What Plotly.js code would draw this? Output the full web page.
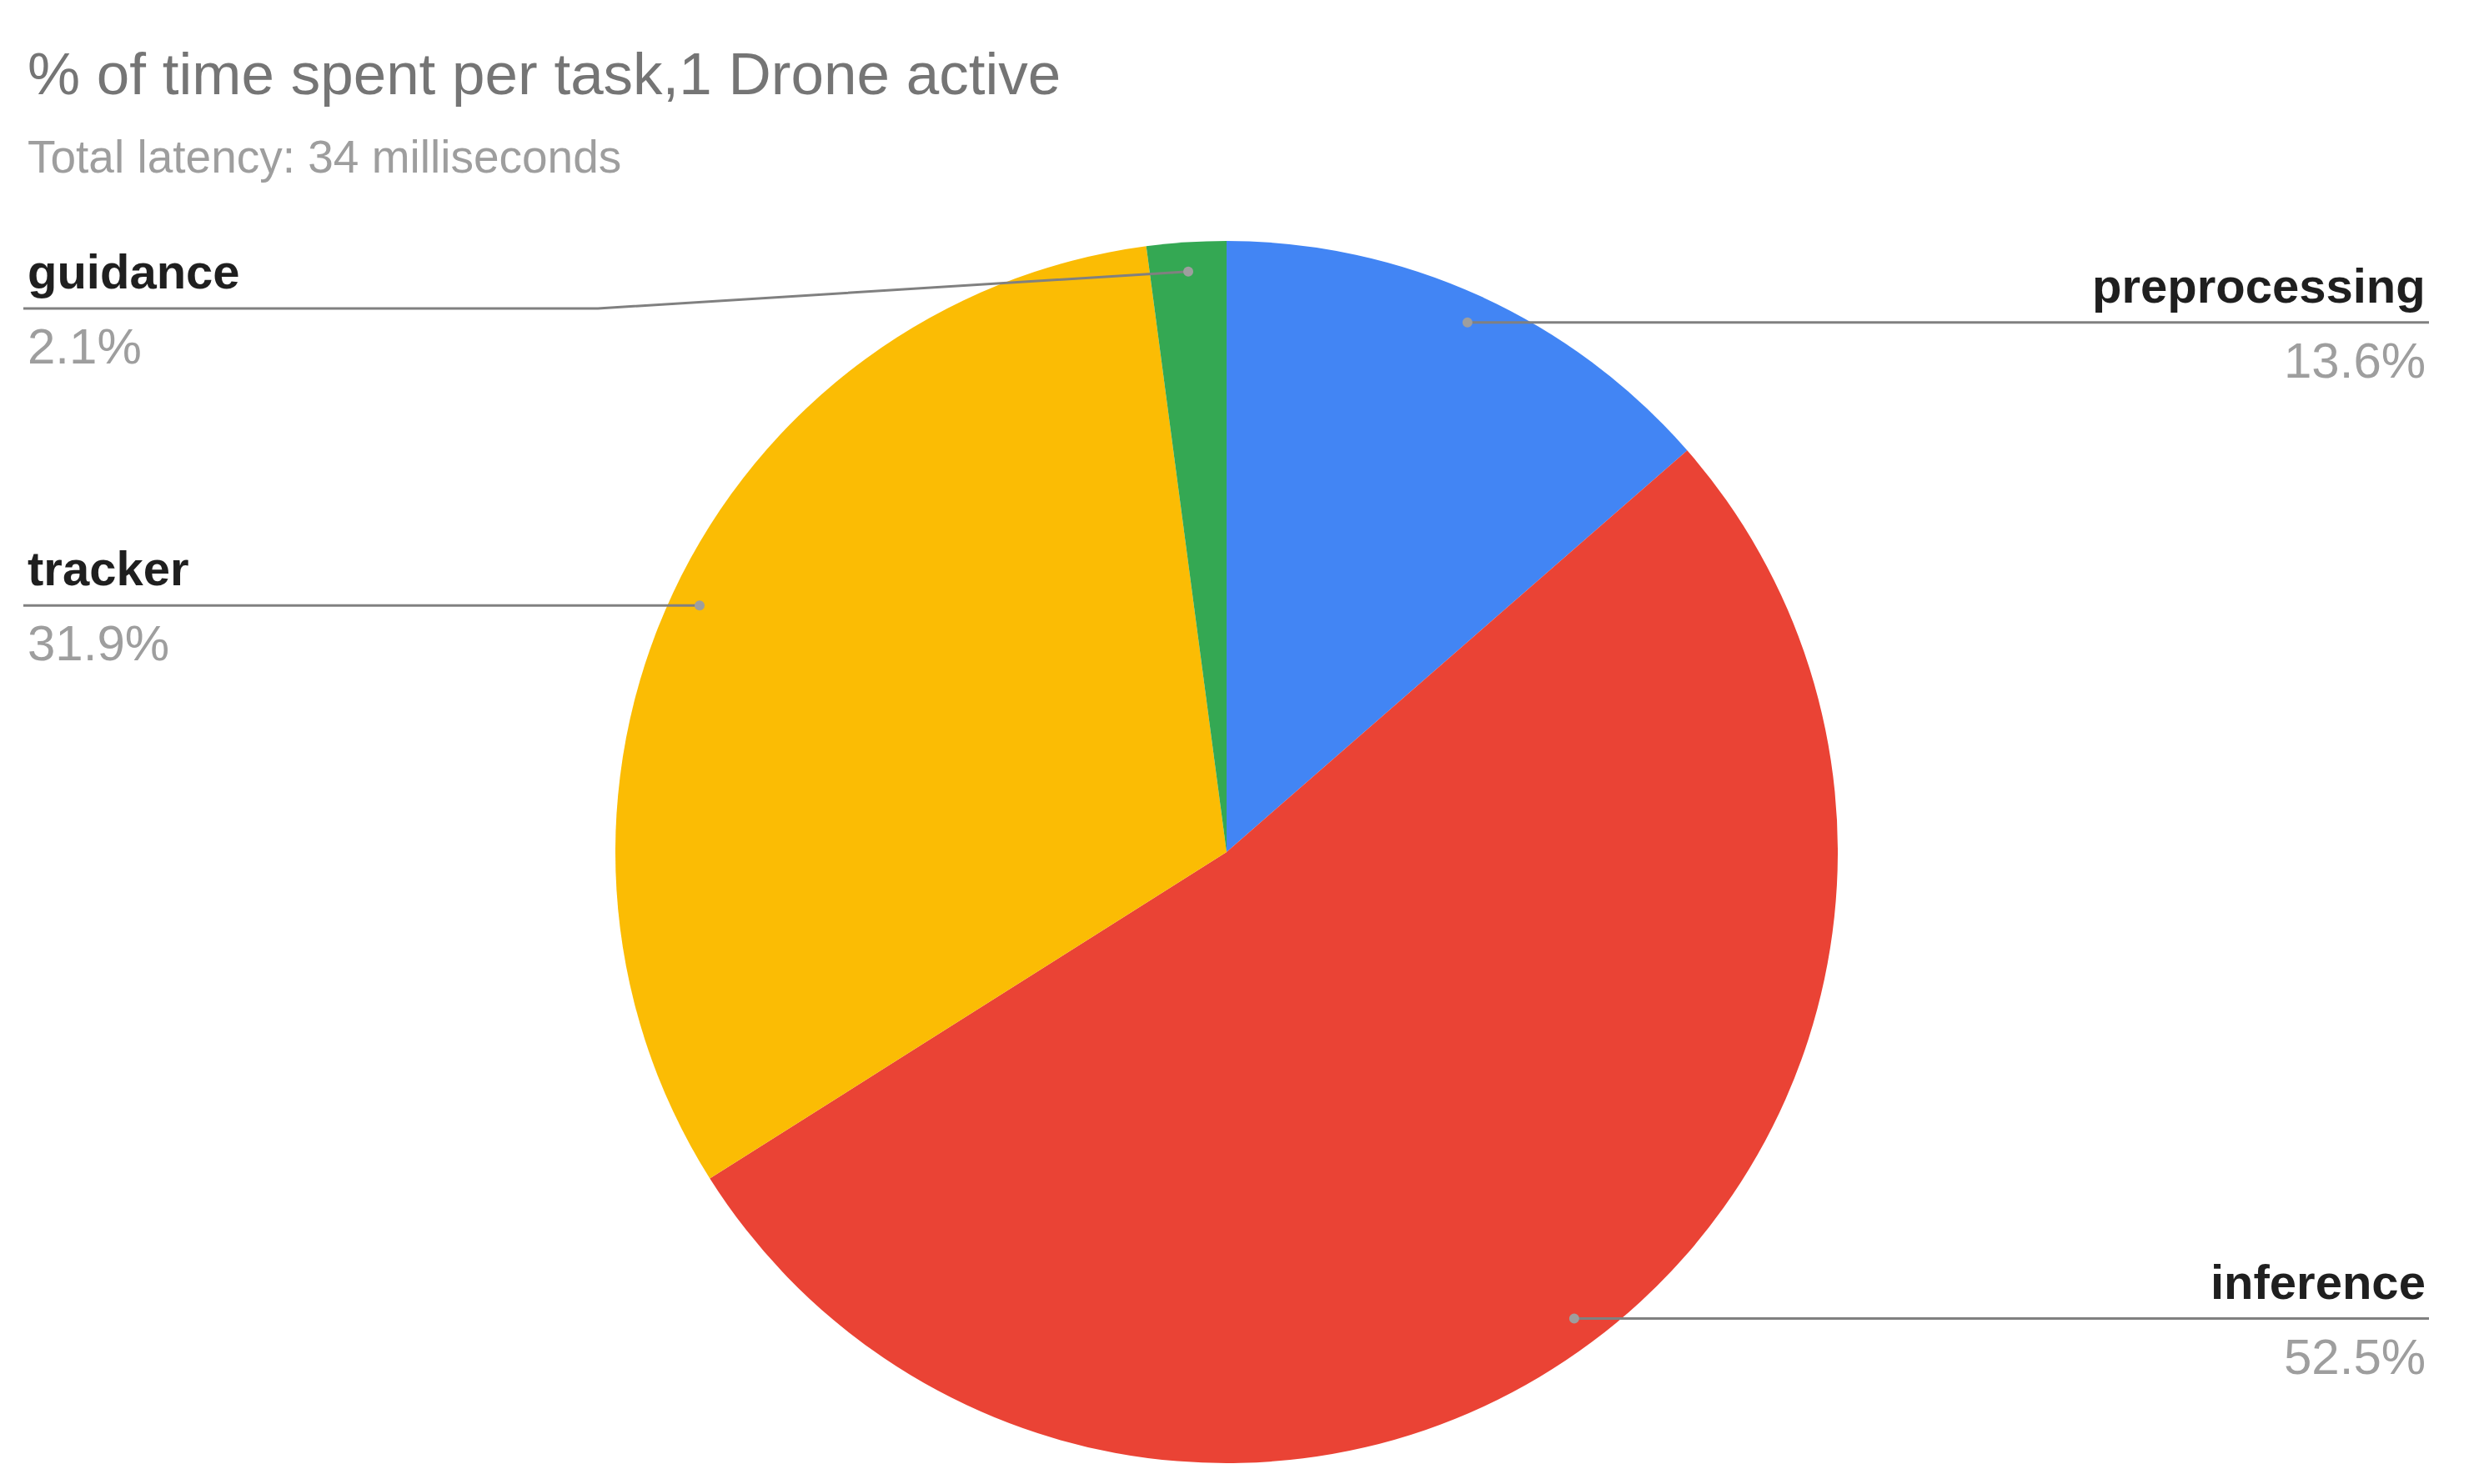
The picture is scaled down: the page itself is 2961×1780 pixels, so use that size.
<!DOCTYPE html>
<html>
<head>
<meta charset="utf-8">
<script src="https://cdn.plot.ly/plotly-3.0.1.min.js"></script>
<style>
  html, body { margin: 0; padding: 0; background: #fff; }
  #chart { width: 2961px; height: 1780px; }
</style>
</head>
<body>
<div id="chart"></div>
<script>
// chart data
var tasks = ["preprocessing", "inference", "tracker", "guidance"];
var percents = [13.6, 52.5, 31.9, 2.1];
var sliceColors = ["#4285F4", "#EA4335", "#FBBC04", "#34A853"];

var titleText = "% of time spent per task,1 Drone active";
var subtitleText = "Total latency: 34 milliseconds";

// page geometry (pixels)
var W = 2961, H = 1780;
var cx = 1471, cy = 1022, R = 733;
var FONT = "Liberation Sans, Arial, sans-serif";

function px(x) { return x / W; }
function py(y) { return 1 - y / H; }

var pie = {
  type: "pie",
  labels: tasks,
  values: percents,
  marker: { colors: sliceColors, line: { width: 0 } },
  sort: false,
  direction: "clockwise",
  rotation: 0,
  textinfo: "none",
  hoverinfo: "label+percent",
  showlegend: false,
  domain: {
    x: [px(cx - R), px(cx + R)],
    y: [py(cy + R), py(cy - R)]
  }
};

var shapes = [];
var annotations = [
  {
    text: titleText, xref: "paper", yref: "paper",
    x: px(32), y: py(48), xanchor: "left", yanchor: "top",
    showarrow: false, borderpad: 0,
    font: { family: FONT, size: 71, color: "#757575" }
  },
  {
    text: subtitleText, xref: "paper", yref: "paper",
    x: px(32), y: py(156), xanchor: "left", yanchor: "top",
    showarrow: false, borderpad: 0,
    font: { family: FONT, size: 55, color: "#9e9e9e" }
  }
];

// leader lines + labels, placed from each slice's mid angle
var total = percents.reduce(function (a, b) { return a + b; }, 0);
var labelTop = 370;   // labels can't go higher than this (room for title)
var cum = 0;
percents.forEach(function (v, i) {
  var mid = (cum + v / 2) / total * 2 * Math.PI;
  cum += v;
  var dx = cx + 0.952 * R * Math.sin(mid);
  var dy = cy - 0.952 * R * Math.cos(mid);
  var right = Math.sin(mid) > 0;
  var lineY = Math.max(dy, labelTop);
  var endX = right ? 2913 : 28;
  var path = "M" + px(dx) + "," + py(dy);
  if (lineY !== dy) {
    var elbowX = right ? cx + R + 21 : cx - R - 21;
    path += " L" + px(elbowX) + "," + py(lineY);
  }
  path += " L" + px(endX) + "," + py(lineY);
  shapes.push({
    type: "path", xref: "paper", yref: "paper", path: path,
    line: { color: "#808080", width: 3 }, layer: "above"
  });
  shapes.push({
    type: "circle", xref: "paper", yref: "paper",
    x0: px(dx - 6), x1: px(dx + 6), y0: py(dy - 6), y1: py(dy + 6),
    fillcolor: "#9e9e9e", line: { width: 0 }, layer: "above"
  });
  var tx = right ? 2910 : 32;
  annotations.push({
    text: tasks[i], xref: "paper", yref: "paper",
    x: px(tx), y: py(lineY - 11), xanchor: right ? "right" : "left", yanchor: "bottom",
    showarrow: false, borderpad: 0,
    font: { family: FONT, size: 58, color: "#1f1f1f", weight: "bold" }
  });
  annotations.push({
    text: v.toFixed(1) + "%", xref: "paper", yref: "paper",
    x: px(tx), y: py(lineY + 11), xanchor: right ? "right" : "left", yanchor: "top",
    showarrow: false, borderpad: 0,
    font: { family: FONT, size: 60, color: "#9e9e9e" }
  });
});

var layout = {
  width: W,
  height: H,
  margin: { l: 0, r: 0, t: 0, b: 0 },
  paper_bgcolor: "#ffffff",
  plot_bgcolor: "#ffffff",
  showlegend: false,
  shapes: shapes,
  annotations: annotations
};

Plotly.newPlot("chart", [pie], layout, { displayModeBar: false, staticPlot: true });
</script>
</body>
</html>
